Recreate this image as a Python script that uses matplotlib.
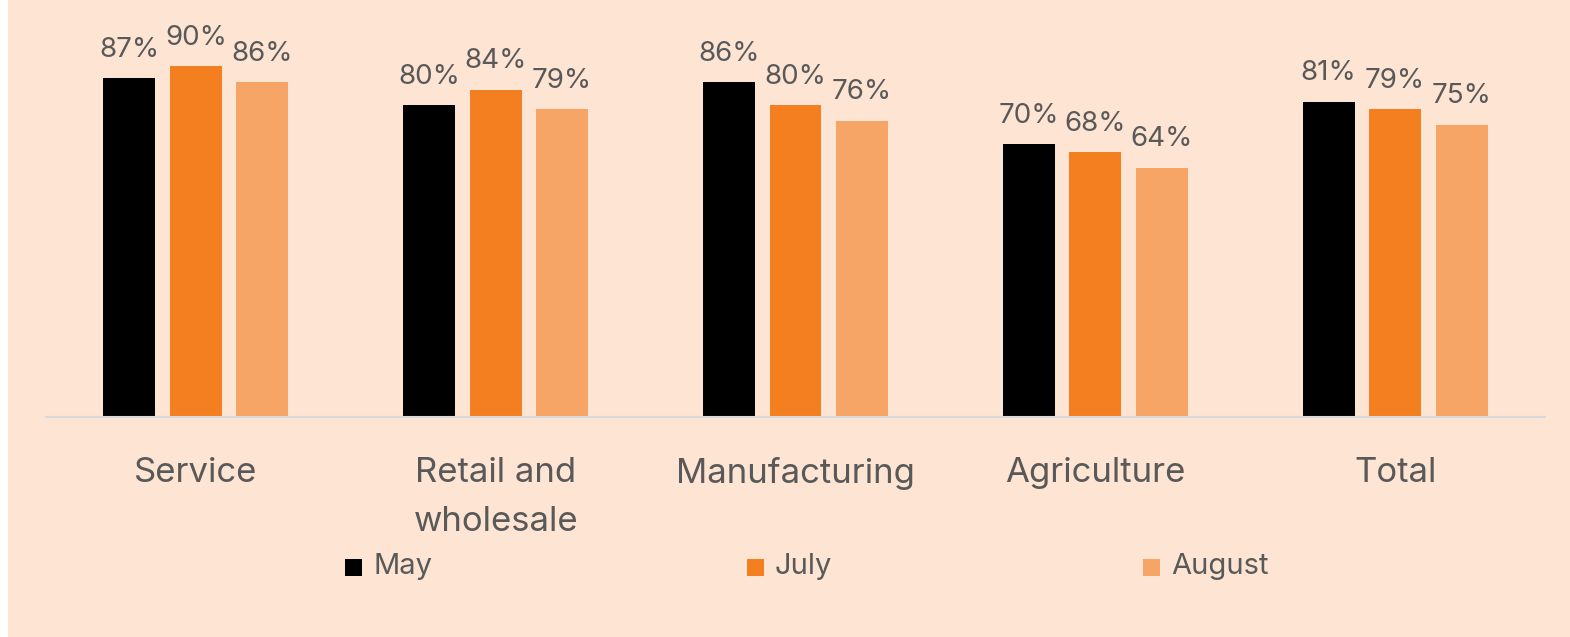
import matplotlib.pyplot as plt
import numpy as np
from matplotlib.patches import Rectangle

# survey shares by sector, three months
sectors = ["Service", "Retail and\nwholesale", "Manufacturing", "Agriculture", "Total"]
months = ["May", "July", "August"]
may = [87, 80, 86, 70, 81]
july = [90, 84, 80, 68, 79]
august = [86, 79, 76, 64, 75]

colors = ["#000000", "#F47F20", "#F6A566"]
bg = "#FDE4D3"
txt = "#595959"

plt.rcParams['font.family'] = ['Inter', 'DejaVu Sans']

fig = plt.figure(figsize=(15.7, 6.37), dpi=100, facecolor=bg)
# thin white strip down the left edge
fig.patches.append(Rectangle((0, 0), 8 / 1570, 1, transform=fig.transFigure,
                             facecolor="white", edgecolor="none", zorder=-1))
ax = fig.add_axes([46 / 1570, 1 - 417 / 637, 1499 / 1570, 389.5 / 637])
ax.set_facecolor(bg)

x = np.arange(len(sectors))
width = 52 / 300
step = 66.5 / 300
for i, (vals, col) in enumerate(zip([may, july, august], colors)):
    bars = ax.bar(x + (i - 1) * step, vals, width, color=col)
    for b, v in zip(bars, vals):
        ax.annotate(f"{v}%", (b.get_x() + b.get_width() / 2, v),
                    xytext=(0, 15.5), textcoords="offset points",
                    ha="center", va="baseline", fontsize=20, color=txt)

ax.set_xlim(-0.5, len(sectors) - 0.5)
ax.set_ylim(0, 100)
ax.set_yticks([])
ax.set_xticks(x)
ax.set_xticklabels(sectors, fontsize=25, color=txt, linespacing=1.65)
ax.tick_params(axis="x", length=0, pad=29)
for s in ["top", "left", "right"]:
    ax.spines[s].set_visible(False)
ax.spines["bottom"].set_color("#D9D9D9")
ax.spines["bottom"].set_linewidth(1.5)

# legend spread along the bottom
leg_x = [345, 747, 1143]
for lx, name, col in zip(leg_x, months, colors):
    fig.patches.append(Rectangle((lx / 1570, 1 - 576 / 637), 17 / 1570, 17 / 637,
                                 transform=fig.transFigure, facecolor=col,
                                 edgecolor="none"))
    fig.text((lx + 28) / 1570, 1 - 567 / 637, name, fontsize=21, color=txt,
             va="center", ha="left")

fig.savefig("out.png", dpi=100, facecolor=bg)
